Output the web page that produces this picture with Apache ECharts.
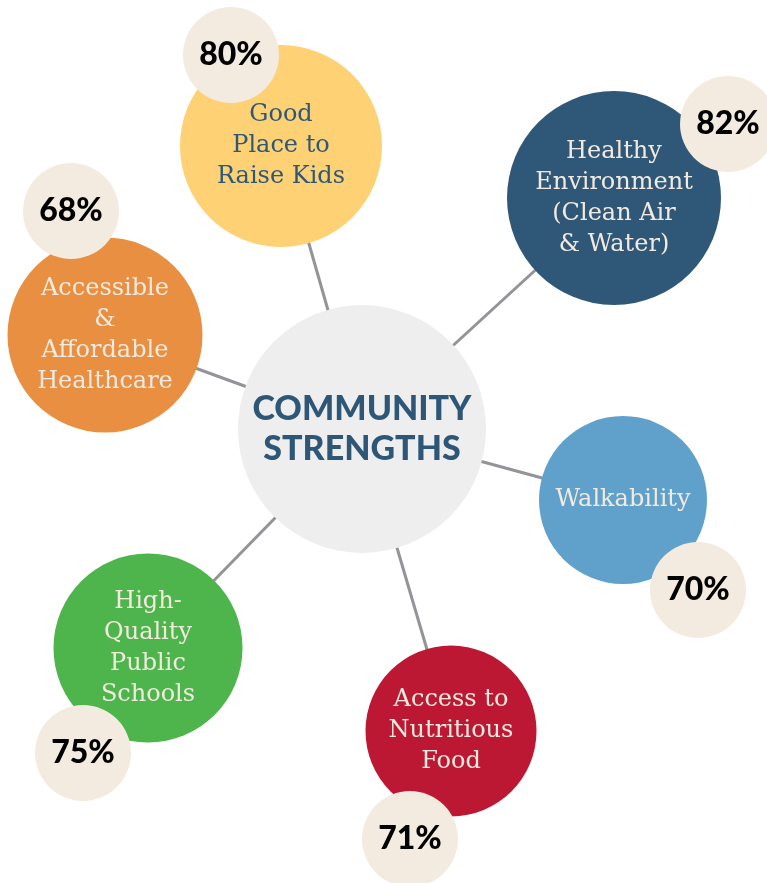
<!DOCTYPE html>
<html>
<head>
<meta charset="utf-8">
<script src="https://cdn.jsdelivr.net/npm/echarts@6/dist/echarts.min.js"></script>
<style>
html, body { margin: 0; padding: 0; background: #fff; }
#chart { width: 767px; height: 883px; }
</style>
</head>
<body>
<div id="chart"></div>
<script>
// data
var topics = ['Good\nPlace to\nRaise Kids', 'Healthy\nEnvironment\n(Clean Air\n& Water)', 'Walkability',
    'Access to\nNutritious\nFood', 'High-\nQuality\nPublic\nSchools', 'Accessible\n&\nAffordable\nHealthcare'];
var percents = [80, 82, 70, 71, 75, 68];
var hubLabel = 'COMMUNITY\nSTRENGTHS';

// layout, in the 767 x 883 frame of the hidden axes
var hubPos = [362, 429];
var topicPos = [[281, 146], [614, 198], [623, 500], [451, 731], [148, 648], [105, 335]];
var topicSize = [202, 214, 168, 171, 189, 195];
var badgePos = [[231, 55], [728, 124], [698, 590], [410, 839], [83, 753], [71, 211]];
var topicColors = ['#FDD174', '#2F5878', '#5FA1CB', '#BC1833', '#4DB54B', '#E88F42'];
var textColors = ['#2F5878', '#F2EAE0', '#F2EAE0', '#F2EAE0', '#F2EAE0', '#F2EAE0'];

var chart = echarts.init(document.getElementById('chart'), null, { renderer: 'canvas' });

var spokes = [];
var topicData = [];
var badgeData = [];
for (var i = 0; i < topics.length; i++) {
    spokes.push({ coords: [hubPos, topicPos[i]] });
    topicData.push({
        value: topicPos[i],
        symbolSize: topicSize[i],
        itemStyle: { color: topicColors[i] },
        label: { color: textColors[i] }
    });
    badgeData.push({ value: badgePos[i] });
}

var option = {
    animation: false,
    backgroundColor: '#ffffff',
    grid: { left: 0, right: 0, top: 0, bottom: 0 },
    xAxis: { type: 'value', min: 0, max: 767, show: false },
    yAxis: { type: 'value', min: 0, max: 883, inverse: true, show: false },
    series: [
        {
            type: 'lines',
            coordinateSystem: 'cartesian2d',
            z: 1,
            silent: true,
            symbol: 'none',
            lineStyle: { color: '#939398', width: 3, opacity: 1 },
            data: spokes
        },
        {
            type: 'scatter',
            z: 2,
            silent: true,
            symbolSize: 248,
            itemStyle: { color: '#EEEEEE', opacity: 1 },
            label: {
                show: true,
                position: 'inside',
                formatter: hubLabel,
                fontFamily: 'Lato',
                fontWeight: 900,
                fontSize: 34,
                lineHeight: 40,
                color: '#2E5777'
            },
            data: [hubPos]
        },
        {
            type: 'scatter',
            z: 3,
            silent: true,
            itemStyle: { opacity: 1 },
            label: {
                show: true,
                position: 'inside',
                formatter: function (p) { return topics[p.dataIndex]; },
                fontFamily: 'DejaVu Serif',
                fontSize: 24,
                lineHeight: 31
            },
            data: topicData
        },
        {
            type: 'scatter',
            z: 4,
            silent: true,
            symbolSize: 96,
            itemStyle: { color: '#F4EBE0', opacity: 1 },
            label: {
                show: true,
                position: 'inside',
                formatter: function (p) { return percents[p.dataIndex] + '%'; },
                fontFamily: 'Lato',
                fontWeight: 900,
                fontSize: 32,
                color: '#000000'
            },
            data: badgeData
        }
    ]
};

chart.setOption(option);
</script>
</body>
</html>
